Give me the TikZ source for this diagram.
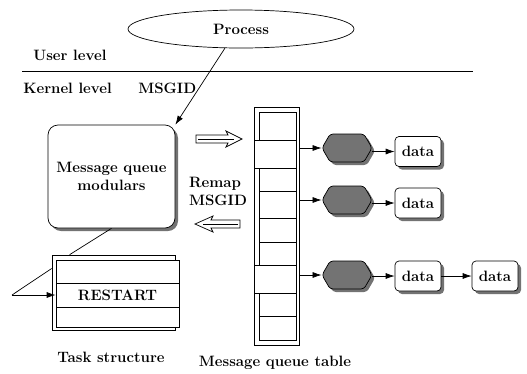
\documentclass[tikz,border=0pt]{standalone}
\usepackage{fontspec}
\usetikzlibrary{shapes.geometric,shapes.misc,shapes.symbols,shadows,arrows.meta,calc}
\begin{document}
\begin{tikzpicture}[x=1pt,y=-1pt,line width=0.7pt,
  txt/.style={font=\fontsize{15}{18}\selectfont\bfseries, inner sep=0pt},
  sh/.style={drop shadow={shadow xshift=3pt,shadow yshift=-3pt,fill=black!55,opacity=1}},
  arr/.style={-{Latex[length=9pt,width=6pt]}},
  cell/.style={draw,fill=white,inner sep=0pt},
  hexa/.style={signal,signal to=east and west,signal pointer angle=120,draw,fill=black!55,rounded corners=3pt,minimum width=50pt,minimum height=28pt,inner sep=0pt,sh},
  databox/.style={draw,fill=white,rounded corners=4pt,minimum width=46pt,minimum height=30pt,sh,txt}]
\useasboundingbox (0,0) rectangle (527,373);

% process
\node[ellipse,draw,minimum width=226pt,minimum height=38pt,txt] (proc) at (241,29) {Process};
\coordinate (hl) at (22,71);
\coordinate (hr) at (473,71);
\draw (hl) -- (hr);
\node[txt,anchor=west] (ul) at (33,55) {User level};
\node[txt,anchor=west] (kl) at (23,88) {Kernel level};
\node[txt,anchor=west] (msgid) at (138,88) {MSGID};

% message queue modulars
\node[draw,fill=white,rounded corners=10pt,minimum width=127pt,minimum height=103pt,sh,txt,align=center] (mqm) at (111.5,176.5) {Message queue\\modulars};
\draw[arr] (proc.230) -- (mqm.north east);

% task structure
\node[draw,minimum width=123pt,minimum height=75pt] (tsb) at (113.5,292.5) {};
\node[cell,minimum width=123pt,minimum height=23pt] (r1) at (117.5,271.5) {};
\node[cell,minimum width=123pt,minimum height=24pt,txt] (r2) at (117.5,295) {RESTART};
\node[cell,minimum width=123pt,minimum height=20pt] (r3) at (117.5,317) {};
\draw (mqm.south) -- ($(tsb.north west)+(18,0)$);
\coordinate (src) at (12,295);
\draw (src) -- ($(tsb.west)+(0,-24)$);
\draw[arr] (src) -- (r2.west);
\node[txt] (tsl) at (111,357) {Task structure};

% remap arrows
\draw[fill=white] (196,135) -- (228,135) -- (226,131) -- (242,139) -- (226,147) -- (228,143) -- (196,143) -- cycle;
\draw (198,139) -- (234,139);
\draw[fill=white] (240,220) -- (211,220) -- (213,216) -- (195,224) -- (213,232) -- (211,228) -- (240,228) -- cycle;
\draw (238,224) -- (203,224);
\node[txt,align=left] (remap) at (218,191) {Remap\\MSGID};

% message queue table
\node[draw,minimum width=45pt,minimum height=238pt] (tab) at (276.5,226) {};
\foreach \i/\t/\b in {1/112/140.5, 3/168/191, 4/191/218, 5/218/242.5, 6/242.5/265.5, 8/293/316.5, 9/316.5/340}
  \node[cell,minimum width=37pt,minimum height={(\b-\t)*1pt}] (c\i) at (277.5,{(\t+\b)/2}) {};
\node[cell,minimum width=42pt,minimum height=27.5pt] (c2) at (275,154.25) {};
\node[cell,minimum width=42pt,minimum height=27.5pt] (c7) at (275,279.25) {};
\node[txt] (mqt) at (275,363) {Message queue table};

% queues
\node[hexa] (h1) at (347,148) {};
\node[hexa] (h2) at (347,200) {};
\node[hexa] (h3) at (347,275) {};
\node[databox] (d1) at (418,151.5) {data};
\node[databox] (d2) at (418,203) {data};
\node[databox] (d3) at (418,276) {data};
\node[databox] (d4) at (495,276) {data};
\draw[arr] (h1.west -| tab.east) -- (h1.west);
\draw[arr] (h2.west -| tab.east) -- (h2.west);
\draw[arr] (h3.west -| tab.east) -- (h3.west);
\draw[arr] (d1.west -| h1.east) -- (d1.west);
\draw[arr] (d2.west -| h2.east) -- (d2.west);
\draw[arr] (d3.west -| h3.east) -- (d3.west);
\draw[arr] (d3.east) -- (d4.west);
\end{tikzpicture}
\end{document}
